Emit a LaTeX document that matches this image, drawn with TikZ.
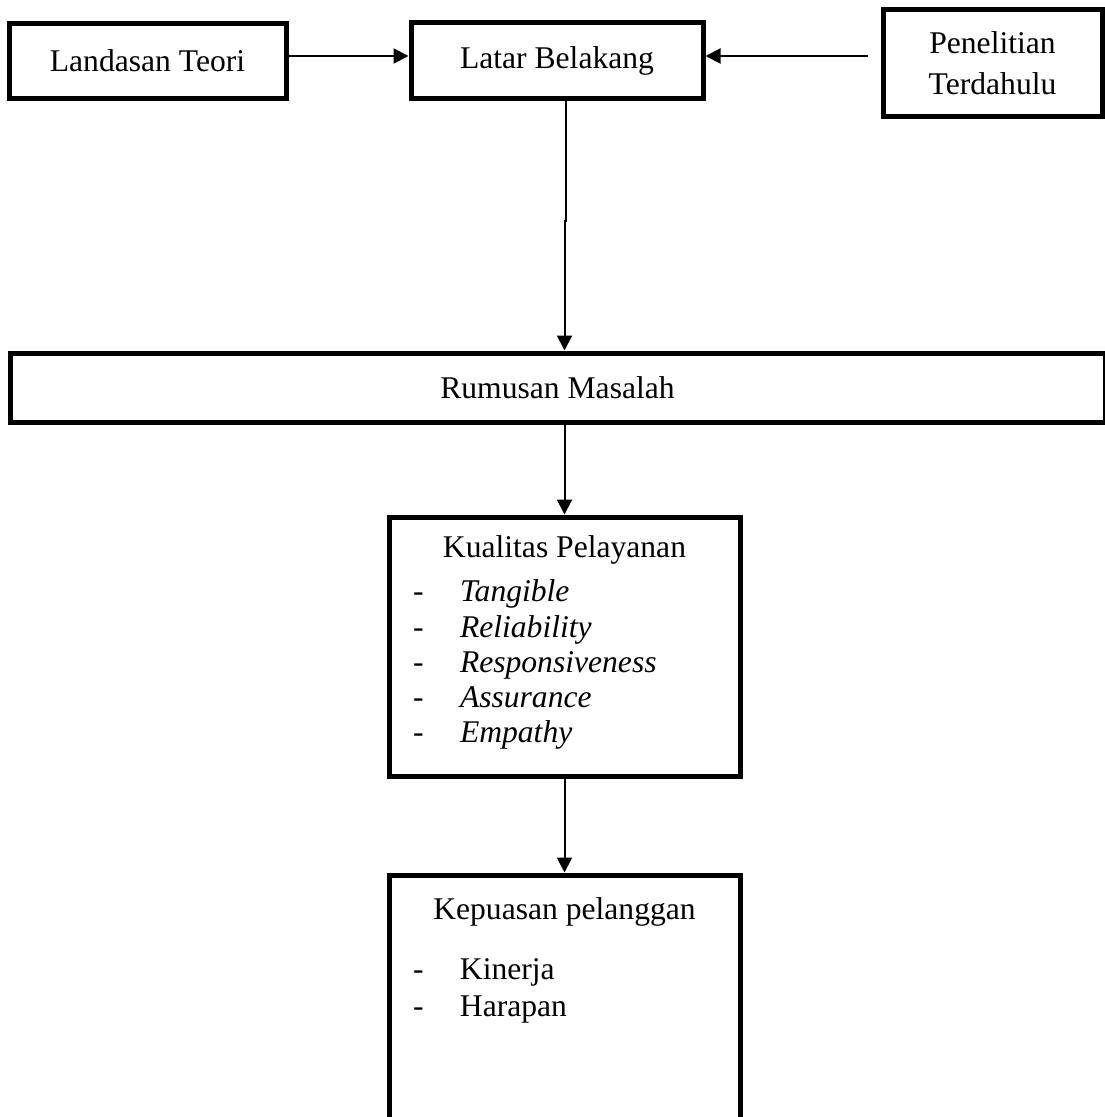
\documentclass[tikz,border=0pt]{standalone}
\usepackage{fontspec}
\setmainfont{Liberation Serif}
\usetikzlibrary{positioning}
\usetikzlibrary{arrows.meta}

\newcommand{\butir}[1]{\par\hspace*{12pt}\makebox[23.5pt][l]{-}#1}

\begin{document}
\begin{tikzpicture}[
  font=\fontsize{15.8}{17.6}\selectfont,
  box/.style={draw, line width=2.5pt, inner sep=0pt},
  arr/.style={-{Triangle[length=7.5pt,width=7.5pt]}, line width=1pt}]
\useasboundingbox (0,0) rectangle (552pt,-558.5pt);
\node[box, minimum width=146pt, minimum height=38pt] (latar) at (278.5pt,-30.5pt) {Latar Belakang};
\node[box, minimum width=138.5pt, minimum height=37.5pt, left=60pt of latar] (landasan) {Landasan Teori};
\node[box, minimum width=109.5pt, minimum height=53.5pt, right=87.5pt of latar, yshift=-1.25pt,
  align=center, font=\fontsize{15.8}{20.5}\selectfont] (penelitian) {Penelitian\\Terdahulu};
\node[box, minimum width=547.5pt, minimum height=34.5pt, below=124.5pt of latar, xshift=0.25pt] (rumusan) {Rumusan Masalah};
\node[box, below=45pt of rumusan, xshift=3.5pt] (kualitas) {
  \begin{minipage}[t][129.5pt][t]{175.5pt}
  \vspace*{9.5pt}
  \centering Kualitas Pelayanan\par
  \vspace{4.4pt}\raggedright
  \butir{\textit{Tangible}}
  \butir{\textit{Reliability}}
  \butir{\textit{Responsiveness}}
  \butir{\textit{Assurance}}
  \butir{\textit{Empathy}}
  \end{minipage}
  };
\node[box, below=47pt of kualitas, font=\fontsize{15.8}{18.5}\selectfont] (kepuasan) {
  \begin{minipage}[t][140pt][t]{175.5pt}
  \vspace*{11.5pt}
  \centering Kepuasan pelanggan\par
  \vspace{11.5pt}\raggedright
  \butir{Kinerja}
  \butir{Harapan}
  \end{minipage}
  };
\draw[arr] ([yshift=2.5pt]landasan.east) -- ([yshift=2.5pt]latar.west);
\draw[arr, shorten <=6.5pt] ([yshift=2.5pt]latar.east -| penelitian.west) -- ([yshift=2.5pt]latar.east);
\draw[arr] ([xshift=4.5pt]latar.south) -- ++(0,-60pt) -| (rumusan.north -| kualitas.north);
\draw[arr] (rumusan.south -| kualitas.north) -- (kualitas.north);
\draw[arr] (kualitas.south) -- (kepuasan.north);
\end{tikzpicture}
\end{document}
